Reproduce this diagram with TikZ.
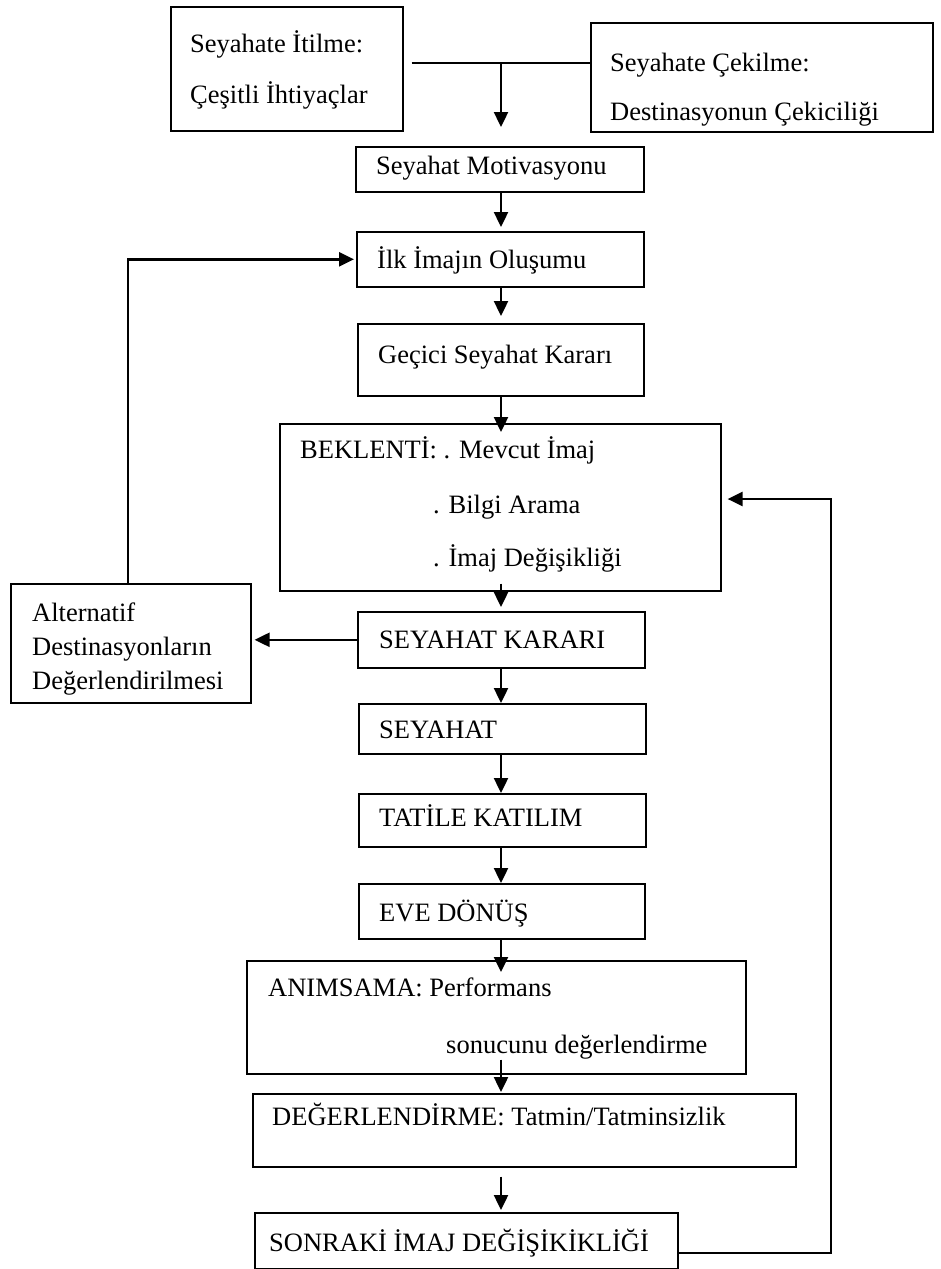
\documentclass[tikz,border=0pt]{standalone}
\usepackage{fontspec}
\setmainfont{Liberation Serif}
\usetikzlibrary{arrows.meta,calc}
\newcommand{\fs}{\fontsize{26.5}{32}\selectfont}
\tikzset{
  box/.style={draw, line width=1.6pt, inner sep=0pt, anchor=north west},
  txt/.style={anchor=base west, inner sep=0pt, font=\fs},
  ln/.style={line width=2.4pt},
  arr/.style={line width=2.4pt, -{Triangle[length=15pt,width=14pt]}}
}
\begin{document}
\begin{tikzpicture}[x=1pt,y=-1pt]
\useasboundingbox (0,0) rectangle (940,1269);
% boxes
\node[box, minimum width=232pt, minimum height=124pt] (A) at (170,6) {};
\node[box, minimum width=342pt, minimum height=109pt] (B) at (590,22) {};
\node[box, minimum width=288pt, minimum height=45pt] (mot) at (355,146) {};
\node[box, minimum width=287pt, minimum height=55pt] (ilk) at (356,231) {};
\node[box, minimum width=286pt, minimum height=72pt] (gec) at (357,323) {};
\node[box, minimum width=441pt, minimum height=167pt] (bek) at (279,423) {};
\node[box, minimum width=240pt, minimum height=119pt] (alt) at (10,583) {};
\node[box, minimum width=287pt, minimum height=56pt] (sk) at (357,611) {};
\node[box, minimum width=287pt, minimum height=50pt] (sey) at (358,703) {};
\node[box, minimum width=287pt, minimum height=53pt] (tat) at (358,793) {};
\node[box, minimum width=286pt, minimum height=55pt] (eve) at (358,883) {};
\node[box, minimum width=499pt, minimum height=113pt] (ani) at (246,960) {};
\node[box, minimum width=543pt, minimum height=73pt] (deg) at (252,1093) {};
\node[box, minimum width=423pt, minimum height=56pt] (son) at (254,1212) {};
% texts
\node[txt] (tA1) at (190,52) {Seyahate İtilme:};
\node[txt] (tA2) at (190,103) {Çeşitli İhtiyaçlar};
\node[txt] (tB1) at (610,71) {Seyahate Çekilme:};
\node[txt] (tB2) at (610,120) {Destinasyonun Çekiciliği};
\node[txt] (tmot) at (376,174) {Seyahat Motivasyonu};
\node[txt] (tilk) at (377,268) {İlk İmajın Oluşumu};
\node[txt] (tgec) at (378,363) {Geçici Seyahat Kararı};
\node[txt] (tbek1) at (300,458) {BEKLENTİ: . Mevcut İmaj};
\node[txt] (tbek2) at (433,513) {. Bilgi Arama};
\node[txt] (tbek3) at (433,566) {. İmaj Değişikliği};
\node[txt] (talt1) at (32,621) {Alternatif};
\node[txt] (talt2) at (32,655) {Destinasyonların};
\node[txt] (talt3) at (32,689) {Değerlendirilmesi};
\node[txt] (tsk) at (379,648) {SEYAHAT KARARI};
\node[txt] (tsey) at (379,738) {SEYAHAT};
\node[txt] (ttat) at (379,826) {TATİLE KATILIM};
\node[txt] (teve) at (379,921) {EVE DÖNÜŞ};
\node[txt] (tani1) at (268,996) {ANIMSAMA: Performans};
\node[txt] (tani2) at (446,1053) {sonucunu değerlendirme};
\node[txt] (tdeg) at (272,1125) {DEĞERLENDİRME: Tatmin/Tatminsizlik};
\node[txt] (tson) at (269,1251) {SONRAKİ İMAJ DEĞİŞİKİKLİĞİ};
% helper coordinates
\coordinate (ax) at (501,0);
\coordinate (jy) at (0,63);
\coordinate (jn) at (501,63);
\coordinate (lx) at (128,0);
\coordinate (fr) at (831,1253);
\coordinate (fb) at (831,499);
% connectors
\draw[ln] ([xshift=8pt]A.east |- jy) -- (B.west |- jy);
\draw[arr] (jn) -- ([yshift=19pt]mot.north -| ax);
\draw[arr] (mot.south -| ax) -- ([yshift=4pt]ilk.north -| ax);
\draw[arr] (ilk.south -| ax) -- ([yshift=7pt]gec.north -| ax);
\draw[arr] (gec.south -| ax) -- ([yshift=-9pt]bek.north -| ax);
\draw[arr] ([yshift=8pt]bek.south -| ax) -- ([yshift=4pt]sk.north -| ax);
\draw[arr] (sk.south -| ax) -- (sey.north -| ax);
\draw[arr] (sey.south -| ax) -- (tat.north -| ax);
\draw[arr] (tat.south -| ax) -- (eve.north -| ax);
\draw[arr] (eve.south -| ax) -- ([yshift=-12pt]ani.north -| ax);
\draw[arr] ([yshift=15pt]ani.south -| ax) -- ([yshift=1pt]deg.north -| ax);
\draw[arr] ([yshift=-9pt]deg.south -| ax) -- ([yshift=2pt]son.north -| ax);
\draw[arr] (sk.west) -- ([xshift=3pt]alt.east |- sk.west);
\draw[arr] (alt.north -| lx) |- ([xshift=-2pt]ilk.west);
\draw[arr] (son.east |- fr) -- (fr) -- (fb) -- ([xshift=6pt]bek.east |- fb);
\end{tikzpicture}
\end{document}
